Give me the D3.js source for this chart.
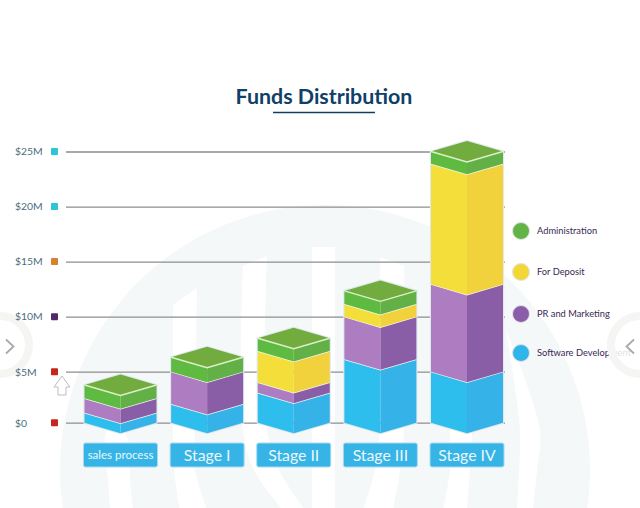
<!DOCTYPE html>
<html>
<head>
<meta charset="utf-8">
<script src="https://cdnjs.cloudflare.com/ajax/libs/d3/7.8.5/d3.min.js"></script>
<style>
  body { margin: 0; background: #fff; }
  svg { display: block; }
</style>
</head>
<body>
<div id="chart"></div>
<script>
// values, in $M
var stages = ["sales process", "Stage I", "Stage II", "Stage III", "Stage IV"];
var softwareDev = [0.98, 1.83, 2.94, 6.13, 5.0];
var prMarketing = [1.41, 3.17, 1.02, 3.87, 7.95];
var forDeposit = [0, 0, 2.92, 1.15, 10.93];
var administration = [1.31, 1.31, 1.16, 1.19, 1.12];
var yTicks = [0, 5, 10, 15, 20, 25];
var tickColors = ["#c4281c", "#c4281c", "#4f2a66", "#d9802e", "#2fc6d3", "#2fc6d3"];
var seriesKeys = ["software", "pr", "deposit", "admin"];
var legendNames = ["Administration", "For Deposit", "PR and Marketing", "Software Development"];
var legendColors = ["#62b545", "#f3d736", "#8b5da8", "#2fb5ea"];

var leftColors = { software: "#2ebeee", pr: "#ae7cc0", deposit: "#f4df3a", admin: "#5fba42" };
var rightColors = { software: "#35b3e8", pr: "#8a5ea7", deposit: "#f1d23d", admin: "#62b046" };

var width = 640, height = 508;
var halfWidth = 36, skew = 10.5;

var svg = d3.select("#chart")
  .append("svg")
  .attr("width", width)
  .attr("height", height);

var x = d3.scalePoint().domain(stages).range([120.5, 467]);
// the first 5M step is drawn a little shorter than the others in the original
var y = d3.scaleLinear().domain([0, 5, 25]).range([422.7, 371.7, 151.5]);

// pale logo behind the chart
var bg = svg.append("g");
bg.append("circle")
  .attr("cx", 325).attr("cy", 470).attr("r", 265)
  .attr("fill", "#f5f8f9");

var curvy = d3.line().curve(d3.curveCatmullRom);
var whiteBands = [
  // [left edge top to bottom, right edge top to bottom]
  [[[112, 410], [105, 440], [108, 480], [110, 510]], [[112, 410], [128, 440], [130, 480], [133, 510]]],
  [[[173, 305], [173, 440], [174, 470], [180, 510]], [[197, 288], [195, 440], [195, 470], [207, 510]]],
  [[[243, 266], [243, 430], [254, 470], [283, 510]], [[267, 256], [267, 430], [279, 470], [305, 510]]],
  [[[312, 247], [312, 510]], [[335, 247], [335, 510]]],
  [[[380, 257], [380, 430], [375, 470], [363, 510]], [[404, 266], [404, 430], [400, 470], [393, 510]]],
  [[[450, 288], [450, 440], [450, 470], [443, 510]], [[474, 305], [472, 440], [470, 470], [467, 510]]],
  [[[506, 330], [520, 430], [519, 470], [517, 510]], [[506, 330], [540, 430], [537, 470], [533, 510]]]
];
whiteBands.forEach(function (b) {
  var left = curvy(b[0]);
  var right = curvy(b[1].slice().reverse());
  bg.append("path")
    .attr("d", left + "L" + right.slice(1) + "Z")
    .attr("fill", "#fff");
});

// slider button on the left sits under the axis labels
function drawNav(cxNav, dir) {
  svg.append("circle")
    .attr("cx", cxNav).attr("cy", 345).attr("r", 29)
    .attr("fill", "#fff").attr("fill-opacity", 0.85)
    .attr("stroke", "#f5f5f3").attr("stroke-width", 8);
  svg.append("path")
    .attr("d", d3.line()([[cxNav + dir * 6, 339.5], [cxNav + dir * 13.5, 346.5], [cxNav + dir * 6, 353.5]]))
    .attr("fill", "none")
    .attr("stroke", "#a9a9ab")
    .attr("stroke-width", 1.8);
}
drawNav(0, 1);

// grid lines and the y axis
var gridAxis = d3.axisRight(y).tickValues(yTicks).tickSize(439).tickFormat("");
var grid = svg.append("g")
  .attr("transform", "translate(66,0)")
  .call(gridAxis);
grid.select(".domain").remove();
grid.selectAll("line").attr("stroke", "#8e8e90").attr("stroke-width", 1.3);

var yAxis = d3.axisLeft(y)
  .tickValues(yTicks)
  .tickSize(0)
  .tickFormat(function (d) { return "$" + d + (d ? "M" : ""); });
var yG = svg.append("g").attr("transform", "translate(15,0)").call(yAxis);
yG.select(".domain").remove();
yG.selectAll("text")
  .attr("x", 0)
  .attr("text-anchor", "start")
  .attr("fill", "#4c6c7c")
  .style("font", "10.4px Lato");

svg.append("g").selectAll("rect")
  .data(yTicks)
  .enter()
  .append("rect")
  .attr("x", 51).attr("width", 7).attr("height", 7)
  .attr("y", function (d) { return y(d) - 3.5; })
  .attr("rx", 0.8)
  .attr("fill", function (d, i) { return tickColors[i]; });

// stacked boxes
var rows = stages.map(function (s, i) {
  return { stage: s, software: softwareDev[i], pr: prMarketing[i], deposit: forDeposit[i], admin: administration[i] };
});
var stacked = d3.stack().keys(seriesKeys)(rows);

var boxes = svg.append("g");
stages.forEach(function (stage, i) {
  var cx = x(stage);
  var l = cx - halfWidth, r = cx + halfWidth;
  var g = boxes.append("g");
  var top = y(stacked[3][i][1]);
  var bottom = y(0);

  // pale outline of the whole box
  g.append("path")
    .attr("d", d3.line()([[l, top], [cx, top - skew], [r, top], [r, bottom], [cx, bottom + skew], [l, bottom]]) + "Z")
    .attr("fill", "none")
    .attr("stroke", "#dfe9ee")
    .attr("stroke-width", 2.2);

  stacked.forEach(function (layer) {
    var y0 = y(layer[i][0]), y1 = y(layer[i][1]);
    if (y0 === y1) return;
    g.append("path")
      .attr("d", d3.line()([[l, y1], [cx, y1 + skew], [cx, y0 + skew], [l, y0]]) + "Z")
      .attr("fill", leftColors[layer.key]);
    g.append("path")
      .attr("d", d3.line()([[cx, y1 + skew], [r, y1], [r, y0], [cx, y0 + skew]]) + "Z")
      .attr("fill", rightColors[layer.key]);
    if (layer.key !== "admin") {
      g.append("path")
        .attr("d", d3.line()([[l, y1], [cx, y1 + skew], [r, y1]]))
        .attr("fill", "none")
        .attr("stroke", "#f4f8f2")
        .attr("stroke-width", 1.4);
    }
  });

  // lid
  g.append("path")
    .attr("d", d3.line()([[l, top], [cx, top - skew], [r, top], [cx, top + skew]]) + "Z")
    .attr("fill", "#72ab3e");
  g.append("path")
    .attr("d", d3.line()([[l, top], [cx, top + skew], [r, top]]))
    .attr("fill", "none")
    .attr("stroke", "#dcefcb")
    .attr("stroke-width", 1.4);

  // stage label button
  g.append("rect")
    .attr("x", cx - 37).attr("y", 443)
    .attr("width", 74).attr("height", 24)
    .attr("rx", 2)
    .attr("fill", "#37b4e6")
    .attr("stroke", "#a9d9ee");
  g.append("text")
    .attr("x", cx).attr("y", 455)
    .attr("dy", "0.35em")
    .attr("text-anchor", "middle")
    .attr("fill", "#eaf7fc")
    .style("font", i === 0 ? "11.5px Lato" : "15.8px Lato")
    .text(stage);
});

// legend
var legendY = d3.scaleOrdinal().domain(legendNames).range([231, 272, 314, 353]);
var legend = svg.append("g").selectAll("g")
  .data(legendNames)
  .enter()
  .append("g")
  .attr("transform", function (d) { return "translate(521," + legendY(d) + ")"; });
legend.append("circle")
  .attr("r", 8.5)
  .attr("fill", function (d, i) { return legendColors[i]; })
  .attr("stroke", "#e3e3e6");
legend.append("text")
  .attr("x", 16)
  .attr("dy", "0.35em")
  .attr("fill", "#38294f")
  .style("font", "9.3px Lato")
  .text(function (d) { return d; });

// title
svg.append("text")
  .attr("x", 324).attr("y", 104)
  .attr("text-anchor", "middle")
  .attr("fill", "#0f4068")
  .style("font", "bold 21.4px Lato")
  .text("Funds Distribution");
svg.append("line")
  .attr("x1", 273).attr("x2", 375)
  .attr("y1", 112.5).attr("y2", 112.5)
  .attr("stroke", "#123e62")
  .attr("stroke-width", 1.6);

// right slider button fades the end of the legend text, then the cursor
drawNav(640, -1);
svg.append("path")
  .attr("d", d3.line()([[62, 376], [70, 387], [66, 387], [66, 395], [58, 395], [58, 387], [54, 387]]) + "Z")
  .attr("fill", "#fff")
  .attr("stroke", "#bdbdbd")
  .attr("stroke-width", 1);
</script>
</body>
</html>
